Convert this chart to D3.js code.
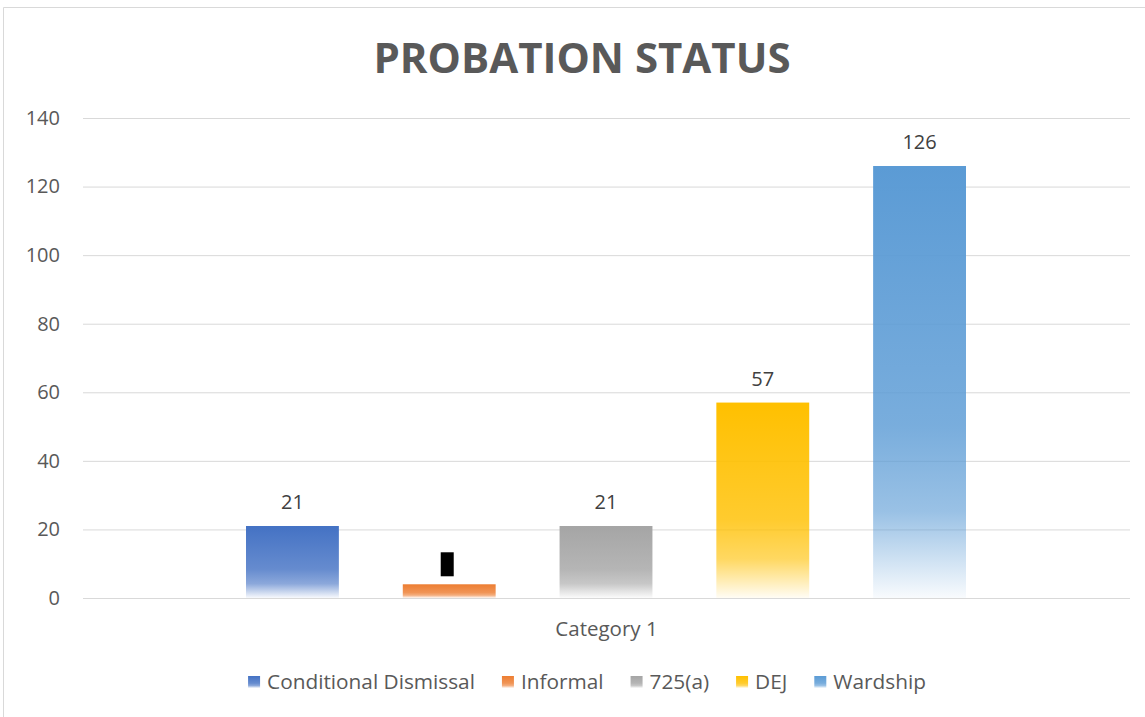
<!DOCTYPE html>
<html>
<head>
<meta charset="utf-8">
<script src="https://cdn.jsdelivr.net/npm/d3@7"></script>
<style>
  body { margin: 0; background: #fff; }
  svg { display: block; font-family: "Open Sans", sans-serif; }
</style>
</head>
<body>
<svg id="drawing_region"></svg>
<script>
// chart data
const category = "Category 1";
const series = ["Conditional Dismissal", "Informal", "725(a)", "DEJ", "Wardship"];
const values = [21, 4, 21, 57, 126];
const colors = ["#4472C4", "#ED7D31", "#A5A5A5", "#FFC000", "#5B9BD5"];
const yTicks = [0, 20, 40, 60, 80, 100, 120, 140];
const redacted = ["Informal"];

const width = 1145, height = 717;
const margin = {top: 118, right: 15, bottom: 119, left: 83};
const innerW = width - margin.left - margin.right;
const innerH = height - margin.top - margin.bottom;

const svg = d3.select("#drawing_region")
    .attr("width", width)
    .attr("height", height);

// outer border of chart area (only left and top visible)
svg.append("path")
    .attr("d", `M3.5,${height} V7.5 H${width}`)
    .attr("fill", "none")
    .attr("stroke", "#d9d9d9")
    .attr("stroke-width", 1);

// gradients
const defs = svg.append("defs");
series.forEach((s, i) => {
    const g = defs.append("linearGradient")
        .attr("id", "grad" + i)
        .attr("x1", 0).attr("y1", 0).attr("x2", 0).attr("y2", 1);
    g.append("stop").attr("offset", "0%").attr("stop-color", colors[i]).attr("stop-opacity", 1);
    g.append("stop").attr("offset", "60%").attr("stop-color", colors[i]).attr("stop-opacity", 0.82);
    g.append("stop").attr("offset", "80%").attr("stop-color", colors[i]).attr("stop-opacity", 0.62);
    g.append("stop").attr("offset", "100%").attr("stop-color", colors[i]).attr("stop-opacity", 0.04);
});

// title
svg.append("text")
    .attr("x", 582)
    .attr("y", 73)
    .attr("text-anchor", "middle")
    .attr("font-size", 42)
    .attr("font-weight", "bold")
    .attr("fill", "#595959")
    .text("PROBATION STATUS");

const chart = svg.append("g")
    .attr("transform", `translate(${margin.left},${margin.top})`);

const yscale = d3.scaleLinear()
    .domain([0, 140])
    .range([innerH, 0]);

const x0 = d3.scaleBand()
    .domain([category])
    .range([0, innerW]);

const x1 = d3.scaleBand()
    .domain(series)
    .range([163, innerW - 164])
    .paddingInner(64 / 157)
    .paddingOuter(0);

// gridlines + y labels
const yaxis = d3.axisLeft(yscale)
    .tickValues(yTicks)
    .tickSize(-innerW)
    .tickPadding(23);

chart.append("g")
    .call(yaxis)
    .call(g => g.select(".domain").remove())
    .call(g => g.selectAll(".tick line").attr("stroke", "#d9d9d9").attr("stroke-width", 1))
    .call(g => g.selectAll(".tick text")
        .attr("font-size", 20)
        .attr("fill", "#595959")
        .attr("font-family", "Open Sans, sans-serif"));

// bars
chart.selectAll("rect.bar")
    .data(series)
    .enter()
    .append("rect")
    .attr("class", "bar")
    .attr("x", d => x1(d))
    .attr("y", (d, i) => yscale(values[i]))
    .attr("width", x1.bandwidth())
    .attr("height", (d, i) => yscale(0) - yscale(values[i]))
    .attr("fill", (d, i) => `url(#grad${i})`);

// data labels
chart.selectAll("text.lbl")
    .data(series)
    .enter()
    .append("text")
    .attr("class", "lbl")
    .attr("x", d => x1(d) + x1.bandwidth() / 2)
    .attr("y", (d, i) => yscale(values[i]) - 17)
    .attr("text-anchor", "middle")
    .attr("font-size", 20)
    .attr("fill", "#404040")
    .attr("opacity", d => redacted.includes(d) ? 0 : 1)
    .text((d, i) => values[i]);

// redaction box over hidden label
chart.selectAll("rect.redact")
    .data(redacted)
    .enter()
    .append("rect")
    .attr("class", "redact")
    .attr("x", d => x1(d) + x1.bandwidth() / 2 - 8.5)
    .attr("y", d => yscale(values[series.indexOf(d)]) - 32)
    .attr("width", 13)
    .attr("height", 24)
    .attr("fill", "#000");

// category label
chart.append("text")
    .attr("x", x0(category) + x0.bandwidth() / 2)
    .attr("y", innerH + 38)
    .attr("text-anchor", "middle")
    .attr("font-size", 20.5)
    .attr("fill", "#595959")
    .text(category);

// legend
const legend = svg.append("g");
let lx = 0;
series.forEach((s, i) => {
    const item = legend.append("g").attr("transform", `translate(${lx},0)`);
    item.append("rect")
        .attr("x", 0).attr("y", -13)
        .attr("width", 12).attr("height", 12)
        .attr("fill", `url(#grad${i})`);
    const t = item.append("text")
        .attr("x", 19).attr("y", 0)
        .attr("font-size", 20.8)
        .attr("fill", "#595959")
        .text(s);
    lx += 19 + t.node().getComputedTextLength() + 27;
});
const legendW = lx - 27;
legend.attr("transform", `translate(${587 - legendW / 2},689)`);
</script>
</body>
</html>
